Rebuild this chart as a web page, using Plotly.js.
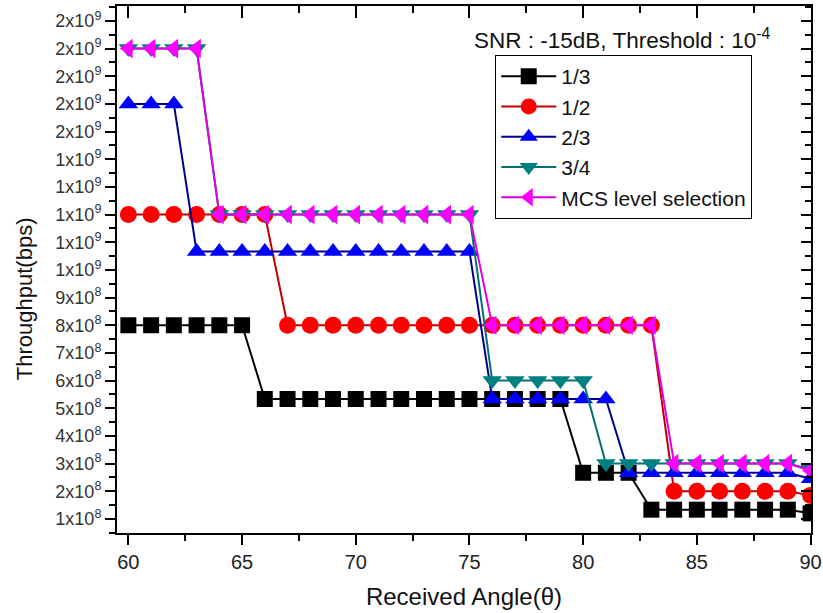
<!DOCTYPE html>
<html>
<head>
<meta charset="utf-8">
<script src="https://cdn.plot.ly/plotly-3.0.1.min.js"></script>
<style>html,body{margin:0;padding:0;background:#fff;}#chart{width:823px;height:613px;}</style>
</head>
<body>
<div id="chart"></div>
<script>
// Received angle (degrees)
const angles = [60,61,62,63,64,65,66,67,68,69,70,71,72,73,74,75,76,77,78,79,80,81,82,83,84,85,86,87,88,89,90];
// Throughput (bps) per code rate
const rate13 = [8e8,8e8,8e8,8e8,8e8,8e8,
  5.333e8,5.333e8,5.333e8,5.333e8,5.333e8,5.333e8,5.333e8,5.333e8,5.333e8,5.333e8,5.333e8,5.333e8,5.333e8,5.333e8,
  2.667e8,2.667e8,2.667e8,
  1.333e8,1.333e8,1.333e8,1.333e8,1.333e8,1.333e8,1.333e8,1.2e8];
const rate12 = [1.2e9,1.2e9,1.2e9,1.2e9,1.2e9,1.2e9,1.2e9,
  8e8,8e8,8e8,8e8,8e8,8e8,8e8,8e8,8e8,8e8,8e8,8e8,8e8,8e8,8e8,8e8,8e8,
  2e8,2e8,2e8,2e8,2e8,2e8,1.85e8];
const rate23 = [1.6e9,1.6e9,1.6e9,
  1.0667e9,1.0667e9,1.0667e9,1.0667e9,1.0667e9,1.0667e9,1.0667e9,1.0667e9,1.0667e9,1.0667e9,1.0667e9,1.0667e9,1.0667e9,
  5.333e8,5.333e8,5.333e8,5.333e8,5.333e8,5.333e8,
  2.667e8,2.667e8,2.667e8,2.667e8,2.667e8,2.667e8,2.667e8,2.667e8,2.45e8];
const rate34 = [1.8e9,1.8e9,1.8e9,1.8e9,
  1.2e9,1.2e9,1.2e9,1.2e9,1.2e9,1.2e9,1.2e9,1.2e9,1.2e9,1.2e9,1.2e9,1.2e9,
  6e8,6e8,6e8,6e8,6e8,
  3e8,3e8,3e8,3e8,3e8,3e8,3e8,3e8,3e8,2.8e8];
const rateMCS = [1.8e9,1.8e9,1.8e9,1.8e9,
  1.2e9,1.2e9,1.2e9,1.2e9,1.2e9,1.2e9,1.2e9,1.2e9,1.2e9,1.2e9,1.2e9,1.2e9,
  8e8,8e8,8e8,8e8,8e8,8e8,8e8,8e8,
  3e8,3e8,3e8,3e8,3e8,3e8,2.75e8];
const seriesNames = ['1/3','1/2','2/3','3/4','MCS level selection'];

// Y tick positions and labels
const yTickVals = [1e8,2e8,3e8,4e8,5e8,6e8,7e8,8e8,9e8,1.0e9,1.1e9,1.2e9,1.3e9,1.4e9,1.5e9,1.6e9,1.7e9,1.8e9,1.9e9];
const yTickText = ['1x10<sup>8</sup>','2x10<sup>8</sup>','3x10<sup>8</sup>','4x10<sup>8</sup>','5x10<sup>8</sup>',
  '6x10<sup>8</sup>','7x10<sup>8</sup>','8x10<sup>8</sup>','9x10<sup>8</sup>',
  '1x10<sup>9</sup>','1x10<sup>9</sup>','1x10<sup>9</sup>','1x10<sup>9</sup>','1x10<sup>9</sup>',
  '2x10<sup>9</sup>','2x10<sup>9</sup>','2x10<sup>9</sup>','2x10<sup>9</sup>','2x10<sup>9</sup>'];

const FONT = 'Liberation Sans, Arial, sans-serif';

function mk(y, name, color, lineColor, symbol, size) {
  return {
    x: angles, y: y, name: name, type: 'scatter', mode: 'lines+markers',
    line: {color: lineColor, width: 2},
    marker: {symbol: symbol, size: size, color: color, line: {width: 0}},
    cliponaxis: true
  };
}

const traces = [
  mk(rate13, seriesNames[0], '#000000', '#000000', 'square', 16),
  mk(rate12, seriesNames[1], '#FF0000', '#C00000', 'circle', 17),
  mk(rate23, seriesNames[2], '#0000FF', '#00008B', 'triangle-up', 17),
  mk(rate34, seriesNames[3], '#008080', '#007070', 'triangle-down', 17),
  mk(rateMCS, seriesNames[4], '#FF00FF', '#E000E0', 'triangle-left', 17),
  {x: [], y: [], xaxis: 'x2', yaxis: 'y2', showlegend: false, hoverinfo: 'skip', type: 'scatter', mode: 'markers'}
];

const xRange = [59.5, 90.02];
const yRange = [0.49e8, 1.954e9];

const layout = {
  width: 823, height: 613,
  margin: {l: 117, r: 12, t: 6, b: 80},
  paper_bgcolor: '#ffffff', plot_bgcolor: '#ffffff',
  font: {family: FONT, color: '#111111', size: 19},
  showlegend: true,
  xaxis: {
    range: xRange, tickmode: 'linear', tick0: 60, dtick: 5,
    ticks: 'outside', ticklen: 10, tickwidth: 2, tickcolor: '#000',
    showline: true, linecolor: '#000', linewidth: 2, showgrid: false, zeroline: false,
    tickfont: {size: 20, family: FONT, color: '#222'},
    minor: {tick0: 60, dtick: 2.5, ticks: 'outside', ticklen: 6, tickwidth: 2, tickcolor: '#000', showgrid: false},
    title: {text: 'Received Angle(θ)', font: {size: 24, family: FONT, color: '#111'}, standoff: 16}
  },
  yaxis: {
    range: yRange, tickmode: 'array', tickvals: yTickVals, ticktext: yTickText,
    ticks: 'outside', ticklen: 10, tickwidth: 2, tickcolor: '#000',
    showline: true, linecolor: '#000', linewidth: 2, showgrid: false, zeroline: false,
    tickfont: {size: 18, family: FONT, color: '#333'},
    minor: {tick0: 0.5e8, dtick: 5e7, ticks: 'outside', ticklen: 6, tickwidth: 2, tickcolor: '#000', showgrid: false}
  },
  xaxis2: {
    overlaying: 'x', side: 'top', anchor: 'y2', range: xRange, tickmode: 'linear', tick0: 60, dtick: 5,
    ticks: 'inside', ticklen: 12, tickwidth: 2, tickcolor: '#000', showticklabels: false,
    showline: true, linecolor: '#000', linewidth: 2, showgrid: false, zeroline: false,
    minor: {tick0: 60, dtick: 2.5, ticks: 'inside', ticklen: 7, tickwidth: 2, tickcolor: '#000', showgrid: false}
  },
  yaxis2: {
    overlaying: 'y', side: 'right', anchor: 'x2', range: yRange, tickmode: 'array', tickvals: yTickVals,
    ticks: 'inside', ticklen: 10, tickwidth: 2, tickcolor: '#000', showticklabels: false,
    showline: true, linecolor: '#000', linewidth: 2, showgrid: false, zeroline: false,
    minor: {tick0: 0.5e8, dtick: 5e7, ticks: 'inside', ticklen: 6, tickwidth: 2, tickcolor: '#000', showgrid: false}
  },
  legend: {
    x: 0.545, y: 0.907, xanchor: 'left', yanchor: 'top',
    bgcolor: '#ffffff', bordercolor: '#000000', borderwidth: 1,
    font: {size: 21, family: FONT, color: '#111'},
    itemwidth: 55, tracegroupgap: 0
  },
  annotations: [{
    xref: 'paper', yref: 'paper', x: 0.512, y: 0.937, xanchor: 'left', yanchor: 'middle',
    text: 'SNR : -15dB, Threshold : 10<sup>-4</sup>', showarrow: false,
    font: {size: 22.5, family: FONT, color: '#111'}
  }, {
    xref: 'paper', yref: 'paper', x: -0.133, y: 0.445, xanchor: 'center', yanchor: 'middle',
    text: 'Throughput(bps)', textangle: -90, showarrow: false,
    font: {size: 22, family: FONT, color: '#111'}
  }]
};

Plotly.newPlot('chart', traces, layout, {displayModeBar: false, staticPlot: true});
</script>
</body>
</html>
